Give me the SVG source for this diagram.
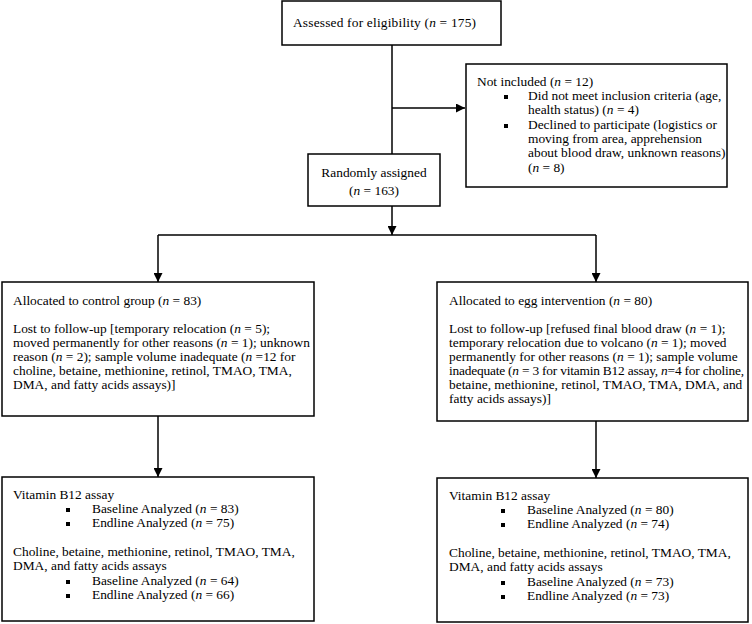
<svg xmlns="http://www.w3.org/2000/svg" width="752" height="624" viewBox="0 0 752 624">
<style>
.box{fill:#fff;stroke:#000;stroke-width:1.5}
.ln{fill:none;stroke:#000;stroke-width:1.5}
text{font-family:"Liberation Serif","Times New Roman",serif;font-size:13.4px;fill:#000}
.c{text-anchor:middle}
.it{font-style:italic}
.b{fill:#000}
</style>
<defs>
<marker id="ah" viewBox="0 0 10 10" refX="10" refY="5" markerWidth="6" markerHeight="6" markerUnits="strokeWidth" orient="auto">
<path d="M0,0 L10,5 L0,10 z" fill="#000"/>
</marker>
</defs>
<rect width="752" height="624" fill="#fff"/>
<g id="connectors">
<path class="ln" d="M392,45 V154"/>
<path class="ln" d="M392,108 H465" marker-end="url(#ah)"/>
<path class="ln" d="M392,206 V235" marker-end="url(#ah)"/>
<path class="ln" d="M158,235 H596"/>
<path class="ln" d="M158,235 V282" marker-end="url(#ah)"/>
<path class="ln" d="M596,235 V282" marker-end="url(#ah)"/>
<path class="ln" d="M158,416 V477" marker-end="url(#ah)"/>
<path class="ln" d="M596,421 V478" marker-end="url(#ah)"/>
</g>
<g id="assessed">
<rect class="box" x="282" y="1" width="219" height="44"/>
<text x="293" y="27" textLength="183">Assessed for eligibility (<tspan class="it">n</tspan> = 175)</text>
</g>
<g id="not-included">
<rect class="box" x="466" y="64" width="261" height="123"/>
<text x="477" y="86">Not included (<tspan class="it">n</tspan> = 12)</text>
<rect class="b" x="504" y="95" width="4" height="4"/>
<text x="528" y="100">Did not meet inclusion criteria (age,</text>
<text x="528" y="114">health status) (<tspan class="it">n</tspan> = 4)</text>
<rect class="b" x="504" y="124" width="4" height="4"/>
<text x="528" y="129">Declined to participate (logistics or</text>
<text x="528" y="143">moving from area, apprehension</text>
<text x="528" y="157">about blood draw, unknown reasons)</text>
<text x="528" y="172">(<tspan class="it">n</tspan> = 8)</text>
</g>
<g id="randomly-assigned">
<rect class="box" x="308" y="154" width="132" height="52"/>
<text class="c" x="374" y="177">Randomly assigned</text>
<text class="c" x="374" y="195">(<tspan class="it">n</tspan> = 163)</text>
</g>
<g id="control">
<rect class="box" x="2" y="282" width="312" height="134"/>
<text x="13" y="305">Allocated to control group (<tspan class="it">n</tspan> = 83)</text>
<text x="13" y="333">Lost to follow-up [temporary relocation (<tspan class="it">n</tspan> = 5);</text>
<text x="13" y="347">moved permanently for other reasons (<tspan class="it">n</tspan> = 1); unknown</text>
<text x="13" y="361">reason (<tspan class="it">n</tspan> = 2); sample volume inadequate (<tspan class="it">n</tspan> =12 for</text>
<text x="13" y="375">choline, betaine, methionine, retinol, TMAO, TMA,</text>
<text x="13" y="389">DMA, and fatty acids assays)]</text>
</g>
<g id="egg">
<rect class="box" x="437" y="282" width="311" height="139"/>
<text x="449" y="305">Allocated to egg intervention (<tspan class="it">n</tspan> = 80)</text>
<text x="449" y="333">Lost to follow-up [refused final blood draw (<tspan class="it">n</tspan> = 1);</text>
<text x="449" y="347">temporary relocation due to volcano (<tspan class="it">n</tspan> = 1); moved</text>
<text x="449" y="361">permanently for other reasons (<tspan class="it">n</tspan> = 1); sample volume</text>
<text x="449" y="375" textLength="295">inadequate (<tspan class="it">n</tspan> = 3 for vitamin B12 assay, <tspan class="it">n</tspan>=4 for choline,</text>
<text x="449" y="389">betaine, methionine, retinol, TMAO, TMA, DMA, and</text>
<text x="449" y="403">fatty acids assays)]</text>
</g>
<g id="control-analyzed">
<rect class="box" x="2" y="477" width="312" height="144"/>
<text x="13" y="499">Vitamin B12 assay</text>
<rect class="b" x="66" y="508" width="4" height="4"/>
<text x="92" y="513">Baseline Analyzed (<tspan class="it">n</tspan> = 83)</text>
<rect class="b" x="66" y="522" width="4" height="4"/>
<text x="92" y="527">Endline Analyzed (<tspan class="it">n</tspan> = 75)</text>
<text x="13" y="556">Choline, betaine, methionine, retinol, TMAO, TMA,</text>
<text x="13" y="570">DMA, and fatty acids assays</text>
<rect class="b" x="66" y="580" width="4" height="4"/>
<text x="92" y="585">Baseline Analyzed (<tspan class="it">n</tspan> = 64)</text>
<rect class="b" x="66" y="594" width="4" height="4"/>
<text x="92" y="599">Endline Analyzed (<tspan class="it">n</tspan> = 66)</text>
</g>
<g id="egg-analyzed">
<rect class="box" x="437" y="478" width="311" height="144"/>
<text x="449" y="500">Vitamin B12 assay</text>
<rect class="b" x="501" y="509" width="4" height="4"/>
<text x="527" y="514">Baseline Analyzed (<tspan class="it">n</tspan> = 80)</text>
<rect class="b" x="501" y="523" width="4" height="4"/>
<text x="527" y="528">Endline Analyzed (<tspan class="it">n</tspan> = 74)</text>
<text x="449" y="557">Choline, betaine, methionine, retinol, TMAO, TMA,</text>
<text x="449" y="571">DMA, and fatty acids assays</text>
<rect class="b" x="501" y="581" width="4" height="4"/>
<text x="527" y="586">Baseline Analyzed (<tspan class="it">n</tspan> = 73)</text>
<rect class="b" x="501" y="595" width="4" height="4"/>
<text x="527" y="600">Endline Analyzed (<tspan class="it">n</tspan> = 73)</text>
</g>
</svg>
